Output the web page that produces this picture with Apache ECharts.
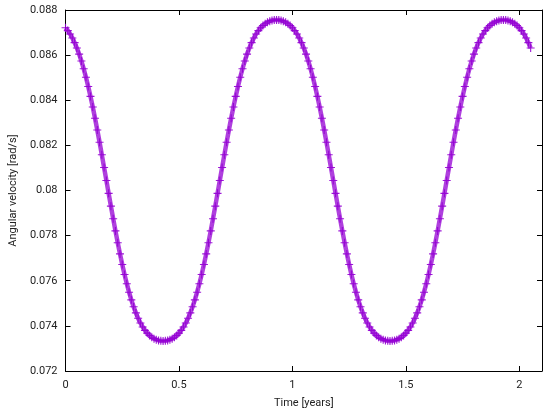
<!DOCTYPE html>
<html>
<head>
<meta charset="utf-8">
<script src="https://cdn.jsdelivr.net/npm/echarts@6/dist/echarts.min.js"></script>
<style>html,body{margin:0;padding:0;background:#fff}#c{width:550px;height:415px}</style>
</head>
<body>
<div id="c"></div>
<script>
const timeYears = [
0.00,0.01,0.02,0.03,0.04,0.05,0.06,0.07,0.08,0.09,0.10,0.11,0.12,0.13,0.14,0.15,0.16,0.17,0.18,0.19,
0.20,0.21,0.22,0.23,0.24,0.25,0.26,0.27,0.28,0.29,0.30,0.31,0.32,0.33,0.34,0.35,0.36,0.37,0.38,0.39,
0.40,0.41,0.42,0.43,0.44,0.45,0.46,0.47,0.48,0.49,0.50,0.51,0.52,0.53,0.54,0.55,0.56,0.57,0.58,0.59,
0.60,0.61,0.62,0.63,0.64,0.65,0.66,0.67,0.68,0.69,0.70,0.71,0.72,0.73,0.74,0.75,0.76,0.77,0.78,0.79,
0.80,0.81,0.82,0.83,0.84,0.85,0.86,0.87,0.88,0.89,0.90,0.91,0.92,0.93,0.94,0.95,0.96,0.97,0.98,0.99,
1.00,1.01,1.02,1.03,1.04,1.05,1.06,1.07,1.08,1.09,1.10,1.11,1.12,1.13,1.14,1.15,1.16,1.17,1.18,1.19,
1.20,1.21,1.22,1.23,1.24,1.25,1.26,1.27,1.28,1.29,1.30,1.31,1.32,1.33,1.34,1.35,1.36,1.37,1.38,1.39,
1.40,1.41,1.42,1.43,1.44,1.45,1.46,1.47,1.48,1.49,1.50,1.51,1.52,1.53,1.54,1.55,1.56,1.57,1.58,1.59,
1.60,1.61,1.62,1.63,1.64,1.65,1.66,1.67,1.68,1.69,1.70,1.71,1.72,1.73,1.74,1.75,1.76,1.77,1.78,1.79,
1.80,1.81,1.82,1.83,1.84,1.85,1.86,1.87,1.88,1.89,1.90,1.91,1.92,1.93,1.94,1.95,1.96,1.97,1.98,1.99,
2.00,2.01,2.02,2.03,2.04,2.05
];
const angularVelocity = [
0.087211,0.087087,0.086937,0.086761,0.086553,0.086315,0.086043,0.085737,0.085397,0.085021,0.084612,0.084171,0.083700,0.083203,0.082681,0.082140,0.081583,0.081017,0.080445,0.079873,
0.079307,0.078750,0.078209,0.077687,0.077190,0.076719,0.076278,0.075869,0.075493,0.075153,0.074847,0.074575,0.074337,0.074129,0.073953,0.073803,0.073679,0.073578,0.073497,0.073433,
0.073387,0.073355,0.073336,0.073330,
0.073336,0.073355,0.073387,0.073433,0.073497,0.073578,0.073679,0.073803,0.073953,0.074129,0.074337,0.074575,0.074847,0.075153,0.075493,0.075869,0.076278,0.076719,0.077190,0.077687,
0.078209,0.078750,0.079307,0.079873,0.080445,0.081017,0.081583,0.082140,0.082681,0.083203,0.083700,0.084171,0.084612,0.085021,0.085397,0.085737,0.086043,0.086315,0.086553,0.086761,
0.086937,0.087087,0.087211,0.087312,0.087393,0.087457,0.087503,0.087535,0.087554,0.087560,
0.087554,0.087535,0.087503,0.087457,0.087393,0.087312,0.087211,0.087087,0.086937,0.086761,0.086553,0.086315,0.086043,0.085737,0.085397,0.085021,0.084612,0.084171,0.083700,0.083203,
0.082681,0.082140,0.081583,0.081017,0.080445,0.079873,0.079307,0.078750,0.078209,0.077687,0.077190,0.076719,0.076278,0.075869,0.075493,0.075153,0.074847,0.074575,0.074337,0.074129,
0.073953,0.073803,0.073679,0.073578,0.073497,0.073433,0.073387,0.073355,0.073336,0.073330,
0.073336,0.073355,0.073387,0.073433,0.073497,0.073578,0.073679,0.073803,0.073953,0.074129,0.074337,0.074575,0.074847,0.075153,0.075493,0.075869,0.076278,0.076719,0.077190,0.077687,
0.078209,0.078750,0.079307,0.079873,0.080445,0.081017,0.081583,0.082140,0.082681,0.083203,0.083700,0.084171,0.084612,0.085021,0.085397,0.085737,0.086043,0.086315,0.086553,0.086761,
0.086937,0.087087,0.087211,0.087312,0.087393,0.087457,0.087503,0.087535,0.087554,0.087560,
0.087554,0.087535,0.087503,0.087457,0.087393,0.087312,0.087211,0.087087,0.086937,0.086761,0.086553,0.086315
];
const xTicks = [0, 0.5, 1, 1.5, 2];
const yTicks = [0.072, 0.074, 0.076, 0.078, 0.08, 0.082, 0.084, 0.086, 0.088];

const points = timeYears.map((t, i) => [t, angularVelocity[i]]);
const color = '#9400D3';
const textColor = '#222';
const font = 'Roboto, "Liberation Sans", sans-serif';
const plusPath = 'path://M0,4.3H10V5.7H0Z M4.3,0H5.7V10H4.3Z';

const axisCommon = {
  axisLine: { show: true, onZero: false, lineStyle: { color: '#000', width: 1 } },
  axisTick: { show: true, inside: true, length: 5, lineStyle: { color: '#000', width: 1 } },
  splitLine: { show: false }
};

const chart = echarts.init(document.getElementById('c'), null, { renderer: 'canvas' });
chart.setOption({
  animation: false,
  backgroundColor: '#fff',
  grid: { left: 62, right: 8, top: 10, bottom: 44, containLabel: false },
  xAxis: [
    Object.assign({}, axisCommon, {
      type: 'value', position: 'bottom', min: 0, max: 2.1, interval: 0.5,
      name: 'Time [years]', nameLocation: 'middle', nameGap: 27,
      nameTextStyle: { color: textColor, fontFamily: font, fontSize: 11 },
      axisLabel: { show: true, color: textColor, fontFamily: font, fontSize: 11, margin: 9,
        showMaxLabel: false,
        formatter: v => xTicks.includes(+v.toFixed(2)) ? String(+v.toFixed(2)) : '' }
    }),
    Object.assign({}, axisCommon, {
      type: 'value', position: 'top', min: 0, max: 2.1, interval: 0.5,
      axisLabel: { show: false }
    })
  ],
  yAxis: [
    Object.assign({}, axisCommon, {
      type: 'value', position: 'left', min: 0.072, max: 0.088, interval: 0.002,
      name: 'Angular velocity [rad/s]', nameLocation: 'middle', nameGap: 45,
      nameTextStyle: { color: textColor, fontFamily: font, fontSize: 11 },
      axisLabel: { show: true, color: textColor, fontFamily: font, fontSize: 11, margin: 8,
        formatter: v => { const r = +v.toFixed(3); return yTicks.includes(r) ? String(r) : ''; } }
    }),
    Object.assign({}, axisCommon, {
      type: 'value', position: 'right', min: 0.072, max: 0.088, interval: 0.002,
      axisLabel: { show: false }
    })
  ],
  series: [
    {
      type: 'line',
      data: points,
      xAxisIndex: 0, yAxisIndex: 0,
      showSymbol: true,
      symbol: plusPath,
      symbolSize: 8,
      lineStyle: { color: color, width: 4.5, opacity: 0.75 },
      itemStyle: { color: color, opacity: 0.9 },
      silent: true
    }
  ]
});
</script>
</body>
</html>
